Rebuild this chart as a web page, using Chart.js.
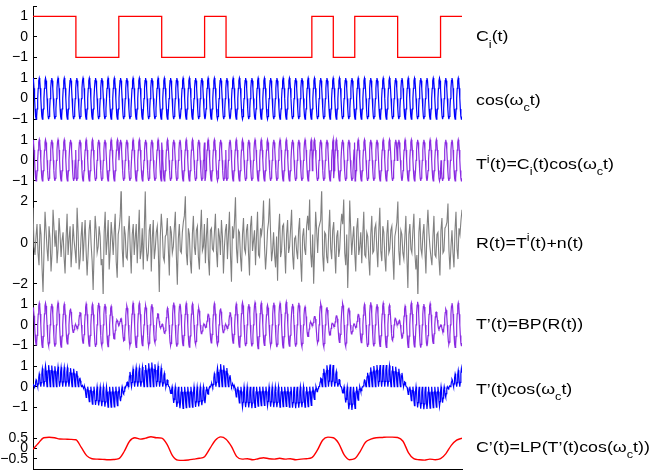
<!DOCTYPE html>
<html>
<head>
<meta charset="utf-8">
<script src="https://cdn.jsdelivr.net/npm/chart.js@4"></script>
<style>
  html, body { margin: 0; padding: 0; background: #fff; }
</style>
</head>
<body>
<canvas id="chart" width="650" height="474"></canvas>
<script>
// spreading code C_i(t), one value per chip
const chips = [1, 1, -1, -1, 1, 1, -1, -1, 1, -1, -1, -1, -1, 1, -1, 1, 1, -1, -1, 1]

// one carrier period, sampled every 30 degrees
const carrierCycle = [1, 0.87, 0.5, 0, -0.5, -0.87, -1, -0.87, -0.5, 0, 0.5, 0.87]
const cyclesPerChip = 3.43

// R(t), even pixel columns (every ~2 px across the 20 chips)
const received = [
  1.7, -0.6, 0.9, -1.1, 0.4, -2.4, 1.5, -0.3, 0.8, -1.4, 1.6, -0.2, -1.0, 1.2, -0.7,
  0.5, -1.5, 1.4, 0.2, -1.2, 0.9, -0.4, 1.7, -1.3, 0.3, -0.9, 1.1, -1.6, 0.6, -0.1,
  -2.3, 1.3, -0.5, 0.8, -1.1, -2.6, 1.5, 0.1, -1.3, 1.0, -0.6, 1.4, -1.7, 0.7, 2.8,
  -1.2, 0.4, -0.8, 1.3, -1.5, 0.9, 0.2, -1.0, 1.6, -0.4, -1.3, 2.5, -0.9, 0.6, -1.4,
  1.1, -0.3, 0.8, -2.4, 1.4, -0.7, 0.3, 1.2, -1.6, 0.5, -0.2, 1.5, -2.05, 0.9, -0.5,
  1.0, 2.25, -1.1, 0.4, -1.5, 1.3, -0.6, 0.8, -1.3, 1.6, -0.2, -1.0, 1.2, -1.6, 0.7,
  -0.4, 1.4, -1.2, 0.3, 1.1, -1.5, 0.6, -0.8, 1.5, -1.9, 0.2, 2.2, -1.0, 0.5, -1.4,
  1.2, -0.5, 0.9, -1.6, 1.3, 0.1, -1.1, 1.5, -0.7, 0.4, 2.05, -1.3, 0.6, 2.15, -0.9,
  0.5, -1.2, -1.85, 1.4, -0.4, 0.9, -1.5, 1.1, -0.2, 1.6, -1.3, 0.3, -0.8, 1.2, -1.9,
  0.7, -0.6, 1.3, 2.1, -1.2, -2.0, 1.5, -0.5, 0.9, 2.6, -1.4, 0.4, -1.0, 1.6, -0.8,
  1.0, -1.5, 0.6, -0.3, 1.4, 2.1, -1.1, -2.2, 2.05, -0.6, 0.8, -1.4, 1.2, -0.2, -1.0,
  1.5, -0.7, 0.3, -1.6, 1.3, -0.4, 0.9, -1.2, 1.7, -0.9, 0.5, -1.4, 1.1, -0.3, 0.8,
  -1.8, 0.6, 2.0, -1.1, 0.4, -0.8, 1.3, -2.2, 0.9, -0.5, 1.4, -1.3, -2.7, 1.2, -0.6,
  0.9, -1.5, 1.6, -0.2, -1.1, 1.3, -0.7, 0.5, -1.6, 1.2, -0.4, 0.8, 1.9, -1.3, 0.6,
  -1.2, 1.5, -0.8, 0.4, 1.6
]
// R(t) odd pixel columns, between the values above
const receivedMid = [
  -0.2, 0.3, -0.5, 0.9, -1.2, -0.4, 0.6, -0.9, 0.2, -0.5, 0.7, 0.6, -0.3, 0.4, 0.1,
  -0.7, 0.2, -0.6, 0.8, -0.3, 0.1, -1.0, 0.5, -0.8, 1.0, 0.2, -0.4, -0.5, 1.1, -0.9,
  -0.4, 0.6, -0.2, 0.3, -0.8, 0.5, -0.6, 1.1, -0.4, 0.3, 0.5, -0.9, 0.4, 1.3, -0.3,
  0.8, -0.7, 0.5, -0.3, 0.4, -0.6, 0.9, 0.3, -0.8, 0.7, 0.6, -0.2, -0.5, 0.9, 0.2,
  -0.8, 0.5, -0.4, 0.3, 0.6, -0.9, 0.4, -0.3, 0.8, -0.5, 0.7, -0.6, 0.2, -0.4, 0.5,
  1.3, -0.5, 0.7, -0.9, 0.4, -0.2, 0.6, -0.7, 0.5, -0.4, 0.9, 0.3, -0.8, 0.6, -0.3,
  0.5, -0.4, 0.7, -0.6, 0.3, -0.2, 0.9, 0.4, -0.6, 0.8, 1.0, -0.3, 0.6, -0.7, 0.4,
  -0.3, 0.6, -0.5, 0.8, -0.4, 0.6, 0.3, -0.6, 0.7, 0.9, -0.2, -0.5, 1.0, 0.5, -0.4,
  -0.6, 0.3, 0.5, -0.7, 0.8, -0.3, 0.4, -0.5, 0.7, -0.6, 0.2, -0.4, 0.6, -0.8, 0.3,
  -0.3, 0.8, 0.6, -0.5, 0.4, -0.3, 0.6, 0.7, 1.1, -0.6, 0.5, -0.7, 0.5, -0.3, 0.6,
  -0.4, 0.3, -0.7, 0.8, 0.9, -0.5, 0.4, -0.3, 0.6, 0.2, -0.5, 0.7, -0.6, 0.5, 0.4,
  -0.6, 0.5, -0.8, 0.4, -0.5, 0.7, -0.3, 0.6, -0.4, 0.8, -0.7, 0.4, -0.5, 0.6, -0.6,
  0.3, 1.0, -0.4, 0.6, -0.5, 0.3, -0.7, 0.4, -0.3, 0.6, -0.5, -0.6, 0.5, -0.3, 0.4,
  -0.4, 0.6, 0.5, -0.7, 0.3, -0.6, 0.4, -0.8, 0.6, -0.5, 0.7, 1.0, -0.4, -0.2, -0.5,
  0.6, -0.3, 0.7, 1.1
]

// signed amplitude of T'(t)=BP(R(t)), every quarter chip
const bpEnvelope = [
  0.85, 1.05, 1.1, 1.0, 1.05, 1.1, 1.0, 0.8, 0,
  -0.8, -1.05, -1.0, -1.1, -1.0, -1.05, -0.8, 0,
  0.85, 1.0, 1.1, 1.05, 0.95, 1.05, 0.8, 0,
  -0.8, -1.1, -1.05, -1.0, -1.1, -1.0, -0.8, 0,
  0.8, 1.1, 0.8, 0,
  -0.8, -1.05, -1.1, -1.0, -1.05, -1.15, -1.0, -0.95, -1.1, -1.05, -1.15, -1.0, -1.05, -1.1, -0.8, 0,
  0.85, 1.15, 0.8, 0,
  -0.8, -1.15, -0.8, 0,
  0.8, 1.05, 1.1, 1.0, 1.05, 1.1, 0.8, 0,
  -0.8, -1.1, -1.05, -1.15, -1.0, -1.05, -0.8, 0,
  0.8, 1.05, 1.1, 1.0
]

// signed peak height of T'(t)cos(wc t), every quarter chip
const mixEnvelope = [
  0.05, 0.55, 1.0, 1.05, 1.0, 0.95, 0.95, 0.9, 0.85, 0.3,
  -0.6, -0.85, -0.9, -0.95, -1.0, -1.0, -0.9, -0.3, 0.7, 0.95,
  0.9, 1.05, 1.2, 1.05, 0.9, 0.4, -0.7, -1.05, -1.05, -1.0,
  -1.0, -0.95, -0.85, -0.1, 0.8, 1.1, 1.0, 0.4, -0.6, -1.0,
  -1.0, -1.05, -0.95, -0.9, -0.95, -1.0, -1.0, -0.95, -1.0, -1.05,
  -1.0, -1.0, -0.9, -0.3, 0.8, 1.1, 1.05, 0.5, -0.6, -1.15,
  -1.1, -0.4, 0.5, 0.95, 1.05, 1.05, 1.05, 1.0, 0.95, 0.6,
  -0.4, -0.9, -1.05, -1.1, -1.05, -1.0, -0.95, -0.5, 0.3, 0.75,
  0.9
]

// C'(t)=LP(...), every quarter chip
const lowpass = [
  -0.04, 0.25, 0.52, 0.54, 0.52, 0.46, 0.45, 0.44, 0.42, 0.05,
  -0.35, -0.5, -0.52, -0.53, -0.55, -0.54, -0.5, -0.15, 0.35, 0.52,
  0.45, 0.5, 0.57, 0.52, 0.5, 0.2, -0.35, -0.57, -0.58, -0.56,
  -0.52, -0.48, -0.4, 0.0, 0.4, 0.56, 0.45, 0.1, -0.4, -0.52,
  -0.5, -0.55, -0.5, -0.45, -0.5, -0.52, -0.48, -0.52, -0.5, -0.55,
  -0.52, -0.5, -0.45, -0.1, 0.4, 0.55, 0.52, 0.25, -0.3, -0.55,
  -0.5, -0.15, 0.3, 0.45, 0.52, 0.53, 0.55, 0.55, 0.53, 0.35,
  -0.2, -0.5, -0.55, -0.57, -0.52, -0.55, -0.5, -0.25, 0.15, 0.4,
  0.5
]

// tick values per panel
const unitTicks = [-1, 0, 1]
const topTicks = [-1, 0, 1, 1.5]
const noiseTicks = [-2, 0, 2]
const lpTicks = [-0.5, 0, 0.5]

// right hand labels: [text, 'sub' | 'sup' | undefined]
const labels = [
  [['C'], ['i', 'sub'], ['(t)']],
  [['cos(ω'], ['c', 'sub'], ['t)']],
  [['T'], ['i', 'sup'], ['(t)=C'], ['i', 'sub'], ['(t)cos(ω'], ['c', 'sub'], ['t)']],
  [['R(t)=T'], ['i', 'sup'], ['(t)+n(t)']],
  [['T’(t)=BP(R(t))']],
  [['T’(t)cos(ω'], ['c', 'sub'], ['t)']],
  [['C’(t)=LP(T’(t)cos(ω'], ['c', 'sub'], ['t))']]
]
const labelShift = [4.5, 6, 8.5, 5, 4, 7, 3.5]

// ---- build series ----
const nChips = chips.length
const step = 1 / (carrierCycle.length * cyclesPerChip)
const nSamples = Math.floor(nChips / step)
const time = []
const carrier = []
for (let i = 0; i <= nSamples; i++) {
  time.push(i * step)
  carrier.push(carrierCycle[i % carrierCycle.length])
}
const chipAt = t => chips[Math.min(nChips - 1, Math.floor(t))]
const envAt = (arr, t) => {
  let p = t * 4
  let i0 = Math.min(arr.length - 1, Math.floor(p))
  let i1 = Math.min(arr.length - 1, i0 + 1)
  let f = p - i0
  return arr[i0] * (1 - f) + arr[i1] * f
}

const chipLine = chips.map((v, c) => ({x: c, y: v})).concat([{x: nChips, y: chips[nChips - 1]}])
const cosLine = time.map((t, i) => ({x: t, y: carrier[i]}))
const txLine = time.map((t, i) => ({x: t, y: chipAt(t) * carrier[i]}))
const rxStep = nChips / (received.length - 1)
const rxLine = []
received.forEach((v, j) => {
  rxLine.push({x: j * rxStep, y: v})
  if (j < receivedMid.length) rxLine.push({x: (j + 0.5) * rxStep, y: receivedMid[j]})
})
const bpLine = time.map((t, i) => ({x: t, y: envAt(bpEnvelope, t) * carrier[i]}))
const mixLine = time.map((t, i) => ({x: t, y: envAt(mixEnvelope, t) * carrier[i] * carrier[i]}))
const lpLine = lowpass.map((v, k) => ({x: k / 4, y: v}))

const RED = '#ff0000', BLUE = '#0000ff', PURPLE = '#8a2be2', GRAY = '#808080'

const fmt = v => v === 1.5 ? '' : String(v).replace('-', '\u2212')

function noPad(s) {
  s.paddingTop = 0
  s.paddingBottom = 0
  s.paddingLeft = 0
  s.paddingRight = 0
}

function yAxis(min, max, weight, tickVals) {
  return {
    type: 'linear',
    position: 'left',
    stack: 'signals',
    stackWeight: weight,
    min: min,
    max: max,
    afterBuildTicks: s => { s.ticks = tickVals.map(v => ({value: v})) },
    afterFit: s => { s.width = 33; noPad(s) },
    border: {display: true, color: '#000', width: 1},
    grid: {drawOnChartArea: false, drawTicks: true, tickLength: -4, color: '#000'},
    ticks: {
      autoSkip: false,
      padding: 9,
      color: '#000',
      font: {family: '"Liberation Sans", Arial, Helvetica, sans-serif', size: 14},
      callback: v => fmt(v)
    }
  }
}

const rightLabels = {
  id: 'rightLabels',
  afterDraw(chart) {
    const ctx = chart.ctx
    ctx.save()
    ctx.fillStyle = '#000'
    ctx.textBaseline = 'alphabetic'
    labels.forEach((parts, i) => {
      const y = chart.scales['y' + i].getPixelForValue(0) + labelShift[i]
      ctx.save()
      ctx.translate(chart.chartArea.right + 14, y)
      ctx.scale(1.27, 1)
      let x = 0
      parts.forEach(([txt, kind]) => {
        ctx.font = (kind ? 10 : 14) + 'px "Liberation Sans", Arial, Helvetica, sans-serif'
        const dy = kind === 'sub' ? 6.5 : kind === 'sup' ? -6.3 : 0
        ctx.fillText(txt, x, dy)
        x += ctx.measureText(txt).width
      })
      ctx.restore()
    })
    ctx.restore()
  }
}

const line = (data, color, axis, extra) => Object.assign({
  data: data,
  yAxisID: axis,
  borderColor: color,
  borderWidth: 1.2,
  pointRadius: 0,
  fill: false,
  tension: 0
}, extra || {})

let ctx = document.getElementById('chart').getContext('2d')

// left stacked axes are laid out last-defined on top, so list them bottom first
new Chart(ctx, {
  type: 'line',
  data: {
    datasets: [
      line(chipLine, RED, 'y0', {stepped: 'before', borderWidth: 1.3}),
      line(cosLine, BLUE, 'y1'),
      line(txLine, PURPLE, 'y2'),
      line(rxLine, GRAY, 'y3', {borderWidth: 1.1}),
      line(bpLine, PURPLE, 'y4'),
      line(mixLine, BLUE, 'y5'),
      line(lpLine, RED, 'y6', {cubicInterpolationMode: 'monotone', borderWidth: 1.4})
    ]
  },
  options: {
    responsive: false,
    animation: false,
    layout: {padding: {top: 6, right: 188, bottom: 5, left: 0}},
    plugins: {legend: {display: false}, tooltip: {enabled: false}},
    scales: {
      x: {
        type: 'linear',
        min: 0,
        max: nChips,
        grid: {display: false},
        ticks: {display: false},
        border: {display: true, color: '#000', width: 1},
        afterFit: s => { s.height = 0; noPad(s) }
      },
      y6: yAxis(-1, 1.5, 2.5, lpTicks),
      y5: yAxis(-1.5, 1.5, 3, unitTicks),
      y4: yAxis(-1.5, 1.5, 3, unitTicks),
      y3: yAxis(-2.5, 2.5, 5, noiseTicks),
      y2: yAxis(-1.5, 1.5, 3, unitTicks),
      y1: yAxis(-1.5, 1.5, 3, unitTicks),
      y0: yAxis(-1.5, 1.5, 3, topTicks)
    }
  },
  plugins: [rightLabels]
})
</script>
</body>
</html>
